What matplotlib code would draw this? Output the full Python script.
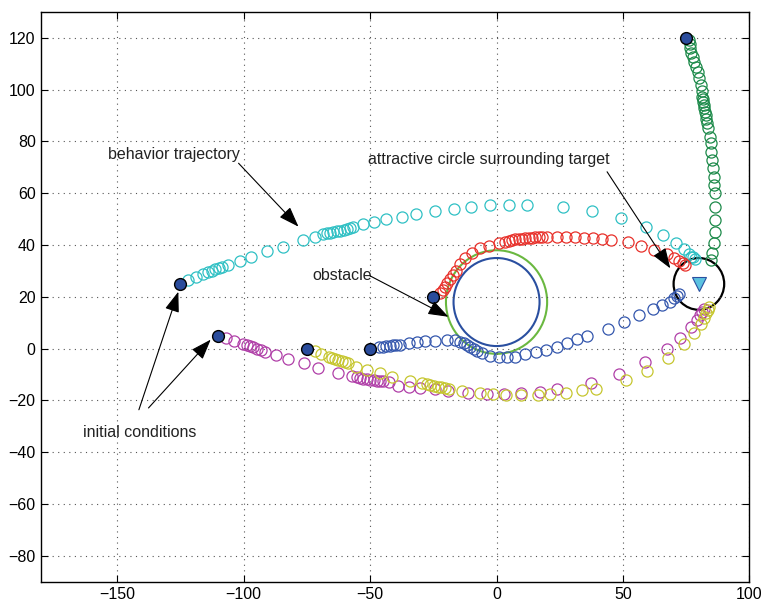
import matplotlib
matplotlib.use('Agg')
import matplotlib.pyplot as plt
from matplotlib.patches import Circle

plt.rcParams['font.family'] = ['Liberation Sans', 'DejaVu Sans']

# trajectories (x, y)
cyan_x = [-121.8,-118.8,-115.9,-113.9,-112.6,-111.3,-109.9,-108.6,-106.2,-101.6,-97.1,-90.6,-84.5,-76.6,-71.6,-68.7,-67.1,-65.8,-64.5,-63.1,-61.8,-60.5,-59.2,-57.9,-56.8,-52.6,-48.6,-43.7,-37.4,-32.0,-24.2,-17.0,-10.1,-2.7,4.9,12.1,26.3,37.9,49.1,59.1,65.7,71.1,74.3,76.0,76.9,77.7,78.3]
cyan_y = [26.5,27.6,28.8,29.7,30.1,30.6,31.1,31.7,32.3,34.0,35.5,37.7,39.4,42.0,43.2,44.2,44.6,44.8,45.1,45.3,45.6,45.8,46.1,46.5,46.9,48.0,48.9,49.9,51.0,52.0,53.2,54.0,54.8,55.5,55.6,55.6,54.8,53.0,50.3,46.9,43.8,40.7,38.3,36.7,35.4,35.2,34.5]

red_x = [-22.2,-21.2,-20.3,-19.4,-18.3,-17.2,-15.9,-14.3,-12.4,-9.7,-6.4,-3.1,0.8,3.5,4.8,6.1,7.4,8.7,10.1,11.4,12.7,14.0,15.3,16.6,18.0,20.0,23.9,27.6,31.1,34.7,38.2,41.7,45.3,51.8,57.2,62.1,67.2,70.0,72.0,73.8,74.7]
red_y = [21.4,22.7,23.9,25.2,26.9,28.5,30.0,32.6,34.9,36.8,38.8,39.8,40.7,41.3,41.7,42.0,42.2,42.3,42.5,42.6,42.7,42.8,43.0,43.0,43.1,43.1,43.2,43.1,43.0,42.9,42.6,42.4,42.0,41.1,39.6,38.1,36.4,34.9,34.0,33.0,32.3]

blue_x = [-46.6,-44.9,-43.6,-42.3,-41.0,-39.7,-38.3,-34.8,-31.5,-28.2,-24.2,-19.4,-16.3,-14.3,-13.0,-11.7,-10.4,-9.1,-7.7,-5.8,-2.5,0.8,4.1,7.4,11.4,15.6,19.7,23.9,27.9,31.8,35.8,44.1,50.3,56.3,61.7,65.4,68.7,70.0,71.4,72.3]
blue_y = [0.5,0.8,1.0,1.1,1.3,1.4,1.5,2.1,2.4,2.8,3.1,3.3,3.3,2.7,2.1,1.4,0.8,-0.1,-0.8,-1.6,-2.8,-3.3,-3.3,-3.1,-2.2,-1.4,-0.5,0.5,2.1,3.6,4.9,7.7,10.3,13.0,15.2,16.9,18.2,19.7,20.5,21.0]

magenta_x = [-106.9,-103.7,-100.1,-98.7,-97.4,-96.1,-94.8,-93.2,-91.5,-87.1,-82.5,-76.3,-70.4,-62.5,-57.2,-55.2,-53.9,-52.6,-51.2,-49.9,-48.6,-47.3,-46.0,-44.7,-42.7,-39.0,-34.8,-30.4,-24.4,-19.0,-11.1,-3.8,2.8,9.8,17.0,23.9,37.5,48.3,58.6,67.2,72.7,76.9,79.3,80.6,81.3,81.9]
magenta_y = [4.0,3.0,1.8,1.4,1.0,0.5,0.0,-0.5,-1.3,-2.5,-4.1,-5.6,-7.6,-9.3,-10.4,-11.0,-11.4,-11.7,-11.8,-12.1,-12.2,-12.4,-12.5,-12.6,-13.0,-14.3,-14.9,-15.3,-15.7,-16.2,-17.0,-17.5,-17.5,-17.2,-16.6,-15.7,-13.1,-9.8,-5.3,-0.2,4.2,8.3,11.1,13.0,14.3,15.2]

yellow_x = [-71.7,-69.4,-66.4,-65.1,-63.8,-62.5,-61.1,-59.8,-58.9,-55.5,-51.2,-46.2,-41.4,-34.4,-29.5,-27.5,-26.2,-24.9,-23.3,-21.9,-20.3,-18.6,-13.7,-6.7,-1.4,3.9,9.8,16.3,21.3,27.6,33.8,39.5,51.0,59.5,67.7,74.3,78.2,80.9,82.2,83.0,83.5,83.9]
yellow_y = [-0.9,-2.0,-3.1,-3.7,-4.1,-4.5,-4.9,-5.1,-5.4,-7.0,-8.2,-9.3,-10.8,-12.5,-13.4,-13.8,-14.1,-14.4,-14.7,-14.9,-15.3,-15.7,-16.2,-17.0,-17.5,-17.9,-17.9,-17.9,-17.5,-17.0,-16.0,-15.7,-12.1,-8.5,-3.8,1.7,6.0,9.5,11.7,13.6,14.9,15.9]

green_x = [76.0,76.4,76.6,77.0,77.6,78.2,78.9,79.5,80.2,80.9,81.1,81.3,81.5,81.7,81.9,82.2,82.5,82.7,83.0,83.3,83.6,84.2,84.6,84.8,85.2,85.6,85.9,86.1,86.5,86.5,86.5,86.5,86.1,85.2,84.6]
green_y = [119.0,117.6,116.0,114.3,112.7,110.8,108.9,106.9,104.4,101.8,99.5,97.3,96.3,95.4,94.1,92.8,91.5,90.2,88.6,87.0,85.1,81.9,79.3,76.1,72.9,69.6,66.4,63.2,60.0,54.8,49.7,45.2,40.7,36.8,34.2]

init_x = [-125, -110, -75, -50, -25, 75]
init_y = [25, 5, 0, 0, 20, 120]

target = (80, 25)
target_r = 10
obstacle = (0, 18)
obstacle_r = 17
obstacle_r2 = 20

fig = plt.figure(figsize=(7.64, 6.03), dpi=100)
ax = fig.add_axes([0.054, 0.0353, 0.927, 0.9448])

traj = [(cyan_x, cyan_y, '#2fc0c4'), (red_x, red_y, '#e8302a'),
        (blue_x, blue_y, '#3457ad'), (magenta_x, magenta_y, '#b03fa8'),
        (yellow_x, yellow_y, '#c6c62e'), (green_x, green_y, '#1d8a4a')]
for tx, ty, c in traj:
    ax.plot(tx, ty, 'o', ms=8, mfc='none', mec=c, mew=0.9)

ax.add_patch(Circle(obstacle, obstacle_r, fill=False, ec='#2a4fa0', lw=1.5))
ax.add_patch(Circle(obstacle, obstacle_r2, fill=False, ec='#6ab840', lw=1.5))
ax.add_patch(Circle(target, target_r, fill=False, ec='black', lw=1.6))
ax.plot(target[0], target[1], 'v', ms=10, mfc='#5bc2e0', mec='#2a4fa0', mew=0.8)

ax.plot(init_x, init_y, 'o', ms=8.5, mfc='#2a4c9c', mec='black', mew=1.0)

arrow = dict(arrowstyle='-|>,head_length=0.7,head_width=0.25', color='black', lw=0.8,
             mutation_scale=18, shrinkA=0, shrinkB=0)
fs = 11.5
ax.text(-153.6, 74.8, 'behavior trajectory', fontsize=fs, va='center', color='#222222')
ax.annotate('', xy=(-78.3, 47.1), xytext=(-102, 71.6), arrowprops=arrow)
ax.text(-73, 28.1, 'obstacle', fontsize=fs, va='center', color='#222222')
ax.annotate('', xy=(-19, 12.3), xytext=(-50, 28.1), arrowprops=arrow)
ax.text(-50.7, 72.9, 'attractive circle surrounding target', fontsize=fs, va='center', color='#222222')
ax.annotate('', xy=(68.7, 31.0), xytext=(43.7, 68.3), arrowprops=arrow)
ax.text(-163.5, -32.2, 'initial conditions', fontsize=fs, va='center', color='#222222')
ax.annotate('', xy=(-125.8, 22.0), xytext=(-141.4, -23.6), arrowprops=arrow)
ax.annotate('', xy=(-113, 3.5), xytext=(-137.6, -22.9), arrowprops=arrow)

ax.set_xlim(-180, 100)
ax.set_ylim(-90, 130)
ax.set_xticks([-150, -100, -50, 0, 50, 100])
ax.set_yticks(range(-80, 121, 20))
ax.grid(True, ls=(0, (1, 4)), color='#555555', lw=0.8)
ax.tick_params(direction='in', top=True, right=True, labelsize=11.5, length=5, pad=4)
for s in ax.spines.values():
    s.set_linewidth(1.0)

fig.savefig('out.png', dpi=100)
